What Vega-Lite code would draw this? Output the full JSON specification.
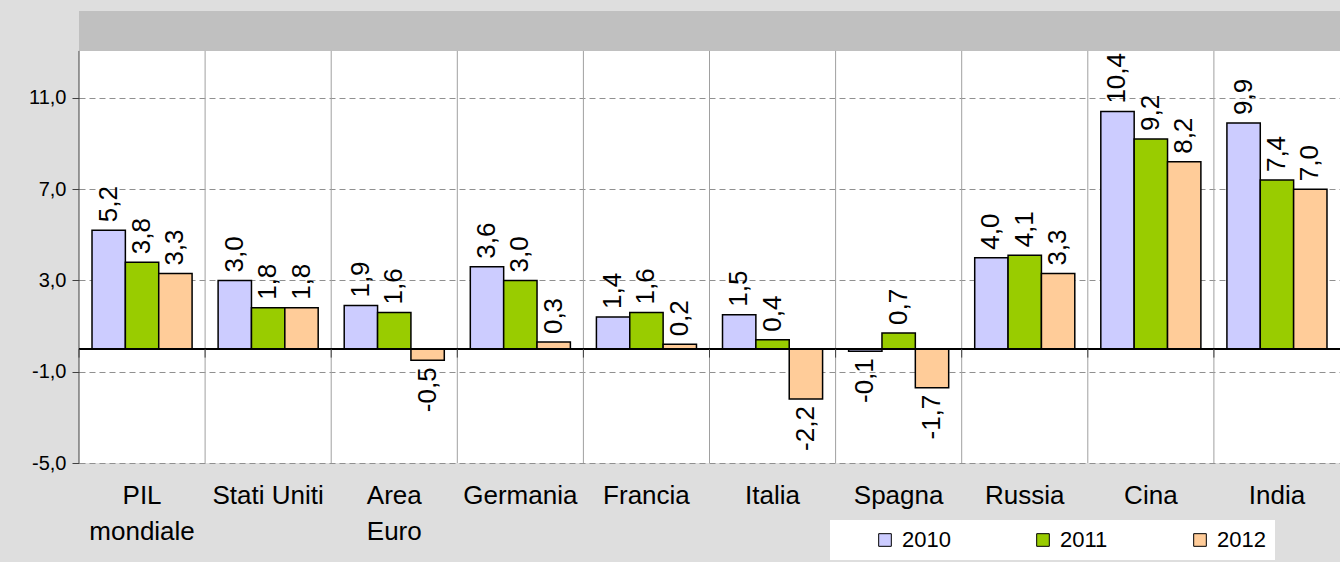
{
  "$schema": "https://vega.github.io/schema/vega-lite/v6.json",
  "width": 1261,
  "height": 452,
  "autosize": {"type": "none"},
  "padding": {"left": 79, "top": 11, "right": 0, "bottom": 99},
  "background": "#dedede",
  "config": {
    "locale": {"number": {"decimal": ",", "thousands": ".", "grouping": [3], "currency": ["", " €"], "minus": "-"}},
    "view": {"stroke": null, "fill": "white"},
    "font": "Liberation Sans"
  },
  "data": {"values": [
    {"paese": "PIL mondiale", "anno": "2010", "valore": 5.2},
    {"paese": "PIL mondiale", "anno": "2011", "valore": 3.8},
    {"paese": "PIL mondiale", "anno": "2012", "valore": 3.3},
    {"paese": "Stati Uniti", "anno": "2010", "valore": 3.0},
    {"paese": "Stati Uniti", "anno": "2011", "valore": 1.8},
    {"paese": "Stati Uniti", "anno": "2012", "valore": 1.8},
    {"paese": "Area Euro", "anno": "2010", "valore": 1.9},
    {"paese": "Area Euro", "anno": "2011", "valore": 1.6},
    {"paese": "Area Euro", "anno": "2012", "valore": -0.5},
    {"paese": "Germania", "anno": "2010", "valore": 3.6},
    {"paese": "Germania", "anno": "2011", "valore": 3.0},
    {"paese": "Germania", "anno": "2012", "valore": 0.3},
    {"paese": "Francia", "anno": "2010", "valore": 1.4},
    {"paese": "Francia", "anno": "2011", "valore": 1.6},
    {"paese": "Francia", "anno": "2012", "valore": 0.2},
    {"paese": "Italia", "anno": "2010", "valore": 1.5},
    {"paese": "Italia", "anno": "2011", "valore": 0.4},
    {"paese": "Italia", "anno": "2012", "valore": -2.2},
    {"paese": "Spagna", "anno": "2010", "valore": -0.1},
    {"paese": "Spagna", "anno": "2011", "valore": 0.7},
    {"paese": "Spagna", "anno": "2012", "valore": -1.7},
    {"paese": "Russia", "anno": "2010", "valore": 4.0},
    {"paese": "Russia", "anno": "2011", "valore": 4.1},
    {"paese": "Russia", "anno": "2012", "valore": 3.3},
    {"paese": "Cina", "anno": "2010", "valore": 10.4},
    {"paese": "Cina", "anno": "2011", "valore": 9.2},
    {"paese": "Cina", "anno": "2012", "valore": 8.2},
    {"paese": "India", "anno": "2010", "valore": 9.9},
    {"paese": "India", "anno": "2011", "valore": 7.4},
    {"paese": "India", "anno": "2012", "valore": 7.0}
  ]},
  "layer": [
    {
      "mark": {"type": "bar", "stroke": "black", "strokeWidth": 1.5},
      "encoding": {
        "x": {"field": "paese", "type": "nominal", "sort": null, "scale": {"paddingInner": 0, "paddingOuter": 0},
          "axis": {"title": null, "labelAngle": 0, "ticks": false, "domain": false, "grid": false, "labelFontSize": 26, "labelColor": "black", "labelPadding": 19, "labelLineHeight": 36,
            "labelExpr": "datum.label == 'PIL mondiale' ? ['PIL', 'mondiale'] : datum.label == 'Area Euro' ? ['Area', 'Euro'] : datum.label"}},
        "xOffset": {"field": "anno", "type": "nominal", "scale": {"paddingOuter": 0.39, "paddingInner": 0}},
        "y": {"field": "valore", "type": "quantitative", "scale": {"domain": [-5, 14.81], "nice": false},
          "axis": {"title": null, "values": [-5, -1, 3, 7, 11], "format": ".1f", "labelFontSize": 20, "labelColor": "black", "tickSize": 7, "tickColor": "#404040", "domain": false, "grid": true, "gridDash": [6, 4], "gridColor": "#909090", "labelPadding": 6}},
        "color": {"field": "anno", "type": "nominal", "scale": {"domain": ["2010", "2011", "2012"], "range": ["#ccccff", "#99cc00", "#ffcc99"]},
          "legend": {"orient": "none", "legendX": 751, "legendY": 509, "direction": "horizontal", "title": null, "fillColor": "white", "padding": 9, "columnPadding": 46, "labelFontSize": 22, "labelColor": "black", "symbolType": "square", "symbolSize": 160, "symbolStrokeColor": "black", "symbolStrokeWidth": 1, "symbolOpacity": 1, "labelOffset": 6, "symbolOffset": 35}}
      }
    },
    {
      "transform": [{"aggregate": [{"op": "count", "as": "n"}]}],
      "mark": {"type": "rect", "color": "#c0c0c0"},
      "encoding": {
        "y": {"datum": 13.06, "type": "quantitative"},
        "y2": {"datum": 14.81}
      }
    },
    {
      "transform": [{"aggregate": [{"op": "count", "as": "n"}], "groupby": ["paese"]}],
      "mark": {"type": "rule", "strokeWidth": 1},
      "encoding": {
        "x": {"field": "paese", "type": "nominal", "sort": null, "bandPosition": 0},
        "y": {"datum": -5, "type": "quantitative"},
        "y2": {"datum": 13.06},
        "color": {"condition": {"test": "datum.paese === 'PIL mondiale'", "value": "#404040"}, "value": "#a0a0a0"}
      }
    },
    {
      "mark": {"type": "rule", "color": "black", "strokeWidth": 1},
      "encoding": {"y": {"datum": 0, "type": "quantitative"}}
    },
    {
      "transform": [{"aggregate": [{"op": "count", "as": "n"}], "groupby": ["paese"]}],
      "mark": {"type": "rule", "color": "#404040", "strokeWidth": 1},
      "encoding": {
        "x": {"field": "paese", "type": "nominal", "sort": null, "bandPosition": 0},
        "y": {"datum": 0, "type": "quantitative"},
        "y2": {"datum": -0.38}
      }
    },
    {
      "transform": [{"filter": "datum.valore >= 0"}],
      "mark": {"type": "text", "angle": 270, "align": "left", "baseline": "middle", "dx": 8, "fontSize": 26, "color": "black"},
      "encoding": {
        "x": {"field": "paese", "type": "nominal", "sort": null},
        "xOffset": {"field": "anno", "type": "nominal"},
        "y": {"field": "valore", "type": "quantitative"},
        "text": {"field": "valore", "type": "quantitative", "format": ".1f"}
      }
    },
    {
      "transform": [{"filter": "datum.valore < 0"}],
      "mark": {"type": "text", "angle": 270, "align": "right", "baseline": "middle", "dx": -7, "fontSize": 26, "color": "black"},
      "encoding": {
        "x": {"field": "paese", "type": "nominal", "sort": null},
        "xOffset": {"field": "anno", "type": "nominal"},
        "y": {"field": "valore", "type": "quantitative"},
        "text": {"field": "valore", "type": "quantitative", "format": ".1f"}
      }
    }
  ]
}
